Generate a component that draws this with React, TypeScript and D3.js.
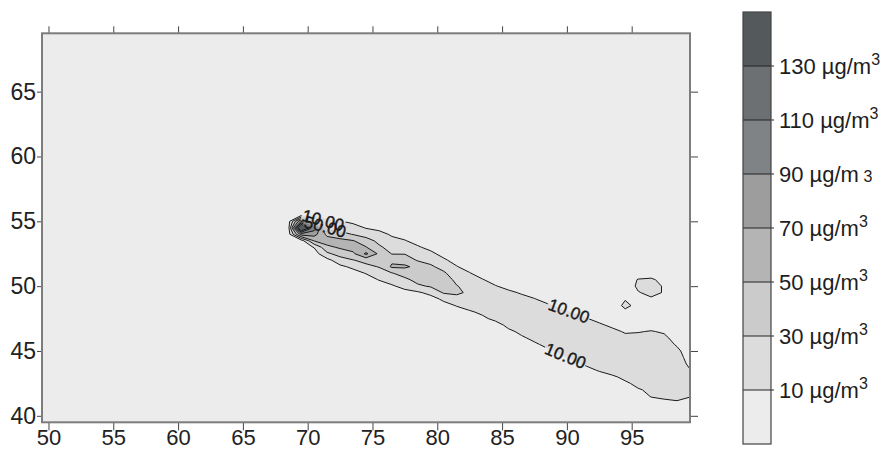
import React, { useEffect, useRef } from "react";
import * as d3 from "d3";

const xTicks = [50, 55, 60, 65, 70, 75, 80, 85, 90, 95];
const yTicks = [40, 45, 50, 55, 60, 65];

// contour levels (µg/m3) and the fill of the band above each level
const levels = [10, 30, 50, 70, 90, 110, 130];
const levelFills = ["#dcdcdc", "#cbcbcb", "#b4b4b4", "#9d9d9d", "#7f8386", "#6c7072", "#54595c"];
const baseFill = "#ececec";

// concentration grid: 1° in lon, 0.5° in lat.
// each column lists values going south from colTop, anything not listed is 0
const colLon = [
  69.5, 70.5, 71.5, 72.5, 73.5, 74.5, 75.5, 76.5, 77.5, 78.5, 79.5, 80.5, 81.5, 82.5, 83.5, 84.5,
  85.5, 86.5, 87.5, 88.5, 89.5, 90.5, 91.5, 92.5, 93.5, 94.5, 95.5, 96.5, 97.5, 98.5, 99.5,
];
const colTop = [
  55.0, 55.5, 55.5, 55.0, 55.0, 55.0, 54.5, 54.0, 54.0, 53.5, 53.0, 52.5, 52.0, 51.5, 51.0, 50.5,
  50.0, 49.5, 49.5, 49.0, 48.5, 48.0, 48.0, 47.5, 47.0, 49.5, 50.5, 50.5, 50.5, 49.5, 44.5,
];
const colValues = [
  [90, 175, 80],
  [6, 33, 100, 78, 51, 11, 1],
  [3, 14, 27, 45, 60, 45, 26, 4],
  [11, 22, 37, 56, 53, 38, 21, 6],
  [6, 17, 29, 51, 59, 46, 29, 14, 3],
  [2, 9, 20, 40, 51, 74, 36, 25, 11, 1],
  [6, 15, 24, 34, 46, 39, 31, 21, 11],
  [8, 14, 21, 29, 46, 53, 29, 17, 8],
  [3, 11, 20, 29, 42, 53, 38, 26, 15, 5],
  [4, 12, 19, 28, 45, 44, 36, 27, 7],
  [5, 14, 24, 33, 43, 41, 32, 16, 2],
  [4, 13, 23, 33, 40, 39, 32, 14, 3],
  [3, 11, 18, 25, 31, 34, 22, 11, 2],
  [2, 11, 17, 23, 26, 23, 16, 8],
  [1, 11, 17, 21, 22, 19, 13, 7],
  [2, 11, 17, 21, 22, 19, 14, 4],
  [4, 14, 19, 22, 22, 19, 14, 7],
  [8, 16, 20, 22, 21, 18, 13, 8, 1],
  [2, 11, 17, 21, 22, 20, 17, 13, 8],
  [3, 13, 18, 21, 22, 20, 17, 13, 8],
  [7, 14, 19, 22, 22, 20, 16, 12, 8],
  [9, 15, 19, 21, 22, 20, 17, 12, 7],
  [2, 11, 16, 20, 22, 21, 19, 16, 12, 6],
  [4, 13, 18, 21, 22, 21, 19, 16, 11, 4],
  [6, 15, 19, 21, 22, 21, 19, 15, 8, 1],
  [3, 9, 14, 6, 3, 2, 8, 15, 19, 21, 22, 21, 18, 13, 8],
  [11, 13, 9, 6, 5, 3, 2, 3, 9, 15, 19, 21, 22, 21, 19, 16, 13, 9],
  [13, 18, 14, 8, 4, 2, 2, 3, 11, 16, 19, 21, 22, 21, 20, 18, 15, 12, 11, 2],
  [4, 8, 9, 5, 3, 2, 2, 4, 8, 14, 18, 20, 21, 21, 20, 19, 17, 15, 13, 6],
  [4, 2, 1, 1, 1, 1, 1, 3, 8, 14, 18, 20, 21, 20, 19, 17, 14, 8],
  [2, 6, 11, 16, 19, 18, 11, 2],
];

// inline contour labels
const labelText = ["10.00", "10.00", "10.00", "50.00"];
const labelLon = [90.16, 89.9, 71.2, 71.35];
const labelLat = [48.1, 44.64, 55.1, 54.6];
const labelAngle = [20, 22, 15, 15];

// legend, top to bottom
const legendFills = ["#54595c", "#6c7072", "#7f8386", "#9d9d9d", "#b4b4b4", "#cbcbcb", "#dcdcdc", "#ececec"];
const legendValues = ["130", "110", "90", "70", "50", "30", "10"];
const legendRaised = [true, true, false, true, true, true, true];

const font = "'Liberation Sans', Arial, Helvetica, sans-serif";

export default function App() {
  const svgRef = useRef<SVGSVGElement>(null);

  useEffect(() => {
    if (!svgRef.current) return;
    const svg = d3.select(svgRef.current);
    svg.selectAll("*").remove();

    const plot = { left: 42, right: 690, top: 33.3, bottom: 422.3 };
    const x = d3.scaleLinear().domain([49.5, 99.5]).range([plot.left, plot.right]);
    const y = d3.scaleLinear().domain([39.5, 69.5]).range([plot.bottom, plot.top]);

    // fill the grid
    const lon0 = 68.5;
    const latTop = 57;
    const dLat = 0.5;
    const nx = 32;
    const ny = 36;
    const grid = new Array(nx * ny).fill(0);
    colLon.forEach((lon, c) => {
      const i = Math.round(lon - lon0);
      const j0 = Math.round((latTop - colTop[c]) / dLat);
      colValues[c].forEach((v, k) => {
        grid[(j0 + k) * nx + i] = v;
      });
    });

    const bands = d3.contours().size([nx, ny]).thresholds(levels)(grid);
    const project = d3.geoTransform({
      point: function (px: number, py: number) {
        (this as any).stream.point(x(lon0 + px - 0.5), y(latTop - (py - 0.5) * dLat));
      },
    });
    const path = d3.geoPath(project as any);

    const defs = svg.append("defs");
    defs
      .append("clipPath")
      .attr("id", "plot-clip")
      .append("rect")
      .attr("x", plot.left)
      .attr("y", plot.top)
      .attr("width", plot.right - plot.left)
      .attr("height", plot.bottom - plot.top);

    // gaps in the contour lines under the labels
    const mask = defs
      .append("mask")
      .attr("id", "label-mask")
      .attr("maskUnits", "userSpaceOnUse")
      .attr("x", 0)
      .attr("y", 0)
      .attr("width", 889)
      .attr("height", 450);
    mask.append("rect").attr("width", 889).attr("height", 450).attr("fill", "white");
    labelText.forEach((t, i) => {
      mask
        .append("rect")
        .attr("x", -22)
        .attr("y", -6)
        .attr("width", 44)
        .attr("height", 12)
        .attr("fill", "black")
        .attr("transform", `translate(${x(labelLon[i])},${y(labelLat[i])}) rotate(${labelAngle[i]})`);
    });

    svg
      .append("rect")
      .attr("x", plot.left)
      .attr("y", plot.top)
      .attr("width", plot.right - plot.left)
      .attr("height", plot.bottom - plot.top)
      .attr("fill", baseFill);

    // filled bands
    svg
      .append("g")
      .attr("clip-path", "url(#plot-clip)")
      .selectAll("path")
      .data(bands)
      .enter()
      .append("path")
      .attr("d", (d: any) => path(d))
      .attr("fill", (d: any, i: number) => levelFills[i])
      .attr("stroke", "none");

    // contour lines
    svg
      .append("g")
      .attr("clip-path", "url(#plot-clip)")
      .append("g")
      .attr("mask", "url(#label-mask)")
      .selectAll("path")
      .data(bands)
      .enter()
      .append("path")
      .attr("d", (d: any) => path(d))
      .attr("fill", "none")
      .attr("stroke", "#1a1a1a")
      .attr("stroke-width", 1)
      .attr("stroke-linejoin", "round");

    // contour labels
    labelText.forEach((t, i) => {
      svg
        .append("text")
        .attr("transform", `translate(${x(labelLon[i])},${y(labelLat[i])}) rotate(${labelAngle[i]})`)
        .attr("text-anchor", "middle")
        .attr("dy", "0.36em")
        .attr("font-family", font)
        .attr("font-size", 17)
        .attr("fill", "#1a1a1a")
        .attr("stroke", "#1a1a1a")
        .attr("stroke-width", 0.4)
        .text(t);
    });

    // axes
    const styleAxis = (g: any) => {
      g.select(".domain").remove();
      g.attr("font-family", font).attr("font-size", 22);
      g.selectAll("line").attr("stroke", "#444");
      g.selectAll("text").attr("fill", "#222");
    };

    svg
      .append("g")
      .attr("transform", `translate(0,${plot.bottom})`)
      .call(d3.axisBottom(x).tickValues(xTicks).tickSize(8).tickPadding(-1).tickFormat(d3.format("d")) as any)
      .call(styleAxis);

    svg
      .append("g")
      .attr("transform", `translate(0,${plot.top})`)
      .call(d3.axisTop(x).tickValues(xTicks).tickSize(7).tickFormat(() => "") as any)
      .call(styleAxis);

    svg
      .append("g")
      .attr("transform", `translate(${plot.left},0)`)
      .call(d3.axisLeft(y).tickValues(yTicks).tickSize(5).tickPadding(1).tickFormat(d3.format("d")) as any)
      .call(styleAxis)
      .call((g: any) => g.selectAll("text").attr("font-size", 23));

    svg
      .append("g")
      .attr("transform", `translate(${plot.right},0)`)
      .call(d3.axisRight(y).tickValues(yTicks).tickSize(8).tickFormat(() => "") as any)
      .call(styleAxis);

    // frame
    svg
      .append("rect")
      .attr("x", plot.left)
      .attr("y", plot.top)
      .attr("width", plot.right - plot.left)
      .attr("height", plot.bottom - plot.top)
      .attr("fill", "none")
      .attr("stroke", "#7d7d7d")
      .attr("stroke-width", 2);

    // legend colour bar
    const bar = { left: 743, right: 771 };
    const ly = d3
      .scaleBand<number>()
      .domain(d3.range(legendFills.length))
      .range([12, 444])
      .paddingInner(0);

    const legend = svg.append("g");
    legend
      .selectAll("rect.bin")
      .data(legendFills)
      .enter()
      .append("rect")
      .attr("class", "bin")
      .attr("x", bar.left)
      .attr("y", (d: string, i: number) => ly(i) as number)
      .attr("width", bar.right - bar.left)
      .attr("height", ly.bandwidth())
      .attr("fill", (d: string) => d);

    legendValues.forEach((v, i) => {
      const yy = (ly(i) as number) + ly.bandwidth();
      legend
        .append("line")
        .attr("x1", bar.left)
        .attr("x2", bar.right + 3)
        .attr("y1", yy)
        .attr("y2", yy)
        .attr("stroke", "#222")
        .attr("stroke-width", 1);

      const txt = legend
        .append("text")
        .attr("x", 779)
        .attr("y", yy)
        .attr("dy", "0.36em")
        .attr("font-family", font)
        .attr("font-size", 22)
        .attr("fill", "#1e1e1e")
        .text(`${v} µg/m`);
      if (legendRaised[i]) {
        txt.append("tspan").attr("font-size", 16).attr("dy", -9).text("3");
      } else {
        txt.append("tspan").attr("font-size", 16).text(" 3");
      }
    });

    legend
      .append("rect")
      .attr("x", bar.left)
      .attr("y", 12)
      .attr("width", bar.right - bar.left)
      .attr("height", 432)
      .attr("fill", "none")
      .attr("stroke", "#444")
      .attr("stroke-width", 1.2);
  }, []);

  return (
    <svg
      ref={svgRef}
      width={889}
      height={450}
      style={{ position: "absolute", left: 0, top: 0, background: "#fff" }}
    />
  );
}
